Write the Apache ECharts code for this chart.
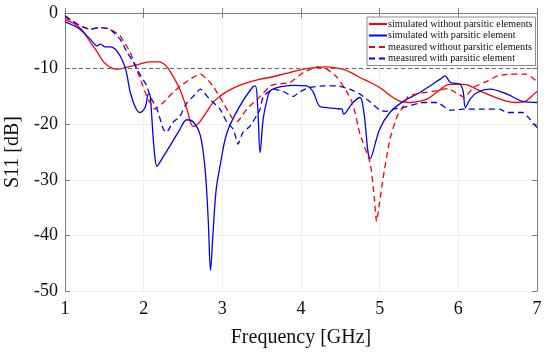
<!DOCTYPE html>
<html><head><meta charset="utf-8">
<script src="https://cdn.jsdelivr.net/npm/echarts@6/dist/echarts.min.js"></script>
<style>html,body{margin:0;padding:0;background:#fff}#c{width:550px;height:353px}</style>
</head><body><div id="c"></div>
<script>
const seriesNames = ['simulated without parsitic elements','simulated with parsitic element','measured without parsitic elements','measured with parsitic element'];
const xTicks = [1,2,3,4,5,6,7];
const yTicks = [-50,-40,-30,-20,-10,0];
const threshold = -10;

const simWithoutX = [1.0,1.1,1.2,1.32,1.41,1.49,1.57,1.64,1.72,1.8,1.95,2.08,2.2,2.29,2.35,2.46,2.55,2.63,2.7,2.8,2.9,3.06,3.26,3.48,3.6,3.8,4.03,4.2,4.33,4.45,4.53,4.65,4.75,4.88,5.0,5.13,5.26,5.39,5.5,5.6,5.75,5.87,6.0,6.1,6.19,6.3,6.44,6.6,6.74,6.85,6.93,7.0];
const simWithoutY = [-1.2,-1.8,-2.8,-5.2,-7.0,-8.8,-9.7,-10.1,-10.0,-9.7,-9.2,-8.8,-8.8,-9.6,-10.8,-13.7,-17.3,-20.4,-19.8,-17.8,-15.8,-14.1,-12.8,-11.9,-11.6,-10.9,-10.1,-9.8,-9.7,-9.9,-10.1,-10.8,-11.6,-12.5,-13.4,-14.8,-15.9,-16.1,-15.9,-15.5,-14.0,-12.9,-12.8,-12.9,-13.4,-14.2,-15.0,-15.8,-16.1,-15.9,-15.0,-14.1];

const simWithX = [1.0,1.1,1.19,1.32,1.41,1.45,1.51,1.57,1.64,1.7,1.76,1.79,1.83,1.89,1.95,2.02,2.06,2.08,2.1,2.13,2.17,2.22,2.33,2.45,2.55,2.63,2.72,2.78,2.82,2.85,2.88,2.92,2.97,3.06,3.22,3.38,3.42,3.45,3.48,3.52,3.57,3.61,3.73,3.9,4.07,4.15,4.24,4.33,4.45,4.52,4.54,4.66,4.75,4.8,4.88,5.0,5.13,5.3,5.51,5.77,5.83,5.9,6.02,6.06,6.09,6.15,6.24,6.4,6.62,6.82,7.0];
const simWithY = [-1.6,-2.2,-2.9,-4.7,-5.9,-5.6,-6.1,-6.1,-6.5,-7.7,-9.6,-11.3,-14.3,-16.8,-17.9,-16.9,-14.6,-14.7,-18,-24,-27.6,-26.5,-24,-21.2,-19.2,-19.6,-22,-28,-37,-46.3,-40,-32,-27.6,-21.5,-16.8,-13.4,-13.1,-17,-25.1,-19,-15.5,-14.0,-13.3,-13.0,-13.1,-14.1,-16.8,-17.0,-17.2,-17.3,-18.2,-16.1,-15.2,-18,-26.2,-20.9,-17.9,-15.9,-14.3,-11.9,-11.3,-12.5,-12.8,-14,-17,-15.5,-14.3,-13.7,-14.6,-15.9,-16.1];

const measWithoutX = [1.0,1.1,1.19,1.32,1.44,1.57,1.7,1.83,1.91,1.95,2.04,2.14,2.25,2.37,2.48,2.59,2.72,2.8,2.88,3.01,3.12,3.19,3.31,3.48,3.61,3.69,3.86,4.03,4.2,4.33,4.46,4.58,4.66,4.75,4.88,4.93,4.96,5.0,5.04,5.13,5.22,5.3,5.36,5.51,5.68,5.87,6.0,6.08,6.19,6.36,6.5,6.66,6.87,7.0];
const measWithoutY = [-0.8,-1.5,-2.3,-2.9,-2.6,-2.9,-4.1,-7.1,-10.1,-11.6,-15.0,-17.3,-16.1,-14.3,-13.0,-11.9,-11.0,-11.8,-13.1,-16.1,-18.8,-19.5,-17.3,-15.0,-13.1,-12.8,-12.5,-10.7,-9.7,-10.1,-11.6,-14.1,-16.4,-21.8,-27,-33,-37.5,-34,-30,-22.7,-18.6,-16.8,-15.0,-14.4,-14.1,-13.6,-14.6,-15.2,-13.4,-12.3,-11.3,-11.0,-11.0,-12.3];

const measWithX = [1.0,1.1,1.19,1.32,1.44,1.57,1.7,1.79,1.87,1.95,2.04,2.08,2.17,2.25,2.29,2.37,2.46,2.55,2.63,2.72,2.84,2.97,3.06,3.14,3.2,3.26,3.35,3.48,3.52,3.65,3.77,3.9,3.99,4.11,4.28,4.46,4.62,4.75,4.88,5.0,5.07,5.17,5.3,5.55,5.73,5.9,6.06,6.36,6.53,6.62,6.82,6.91,7.0];
const measWithY = [-0.5,-1.5,-2.3,-2.9,-2.6,-2.9,-4.7,-7.1,-8.8,-11,-13.1,-14.9,-17.3,-20.9,-21.5,-19.7,-18.6,-16.1,-15,-13.7,-15.5,-17.3,-19.7,-20.9,-23.6,-21.5,-20.4,-17.3,-15,-13.7,-14.1,-15.0,-14.1,-13.4,-13.1,-13.1,-13.7,-14.6,-16,-17.5,-17.7,-17.3,-17,-16.1,-16.1,-17.5,-17.3,-17.3,-17.3,-17.9,-17.9,-19.1,-20.6];

const zip = (xs, ys) => xs.map((x, i) => [x, ys[i]]);
const font = 'Liberation Serif';
const chart = echarts.init(document.getElementById('c'));

const solidIcon = 'path://M0,0H18V2H0Z';
const dashIcon = 'path://M0,0H6V2H0Z M10,0H16V2H10Z M18,0H18.01V2H18Z';

const axisCommon = {
  axisLine: {show: true, lineStyle: {color: '#7f7f7f', width: 1}},
  axisTick: {show: true, inside: true, length: 5, lineStyle: {color: '#7f7f7f'}},
};

function mk(name, xs, ys, color, dashed, extra) {
  return Object.assign({
    type: 'line', name, data: zip(xs, ys), showSymbol: false, symbol: 'none',
    smooth: dashed ? 0.15 : 0.35,
    lineStyle: {color, width: 1.3, type: dashed ? [6, 4] : 'solid'},
    itemStyle: {color}, z: 3
  }, extra || {});
}

chart.setOption({
  animation: false,
  backgroundColor: '#fff',
  grid: {left: 65, right: 13, top: 13, bottom: 62, containLabel: false, outerBoundsMode: 'none'},
  legend: {
    data: [
      {name: seriesNames[0], icon: solidIcon},
      {name: seriesNames[1], icon: solidIcon},
      {name: seriesNames[2], icon: dashIcon},
      {name: seriesNames[3], icon: dashIcon}
    ],
    orient: 'vertical', left: 367, top: 17,
    itemWidth: 18, itemHeight: 2, itemGap: 1.5,
    backgroundColor: '#fff', borderColor: '#8a8a8a', borderWidth: 1, borderRadius: 0,
    padding: [2, 3, 2, 2],
    textStyle: {fontFamily: font, fontSize: 10.2, color: '#111', padding: [0, 0, 0, -4]}
  },
  xAxis: [{
    type: 'value', min: 1, max: 7, interval: 1,
    name: 'Frequency [GHz]', nameLocation: 'middle', nameGap: 37,
    nameTextStyle: {fontFamily: font, fontSize: 20, color: '#111'},
    axisLabel: {fontFamily: font, fontSize: 18, color: '#111', margin: 9},
    splitLine: {show: true, lineStyle: {color: '#f0f0f0', width: 1}},
    ...axisCommon
  }, {
    type: 'value', min: 1, max: 7, interval: 1, position: 'top',
    axisLabel: {show: false}, splitLine: {show: false}, ...axisCommon
  }],
  yAxis: [{
    type: 'value', min: -50, max: 0, interval: 10,
    name: 'S11 [dB]', nameLocation: 'middle', nameGap: 42,
    nameTextStyle: {fontFamily: font, fontSize: 20, color: '#111'},
    axisLabel: {fontFamily: font, fontSize: 18, color: '#111', margin: 7},
    splitLine: {show: true, lineStyle: {color: '#f0f0f0', width: 1}},
    ...axisCommon
  }, {
    type: 'value', min: -50, max: 0, interval: 10, position: 'right',
    axisLabel: {show: false}, splitLine: {show: false}, ...axisCommon
  }],
  series: [
    mk(seriesNames[0], simWithoutX, simWithoutY, '#ff0000', false, {
      markLine: {silent: true, symbol: 'none', label: {show: false},
        lineStyle: {color: '#666', type: [4, 3], width: 1},
        data: [{yAxis: threshold}]}
    }),
    mk(seriesNames[1], simWithX, simWithY, '#0000ff', false),
    mk(seriesNames[2], measWithoutX, measWithoutY, '#ff0000', true),
    mk(seriesNames[3], measWithX, measWithY, '#0000ff', true)
  ]
});
</script></body></html>
